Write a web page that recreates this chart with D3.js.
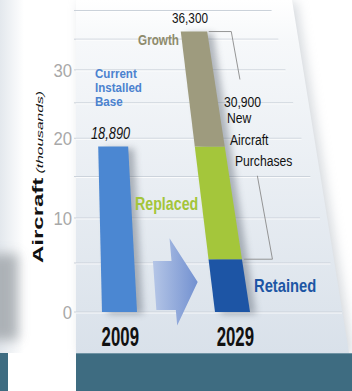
<!DOCTYPE html>
<html>
<head>
<meta charset="utf-8">
<script src="https://cdn.jsdelivr.net/npm/d3@7"></script>
<style>
  html, body { margin: 0; padding: 0; background: #fff; }
  svg { display: block; }
  text { font-family: "Liberation Sans", Arial, sans-serif; }
</style>
</head>
<body>
<svg id="chart" width="352" height="391"></svg>
<script>
// data (thousands of aircraft)
const years = ["2009", "2029"];
const installed = [18.89, 0];
const retained = [0, 5.4];
const replaced = [0, 13.49];
const growth = [0, 17.41];
const yTicks = [0, 10, 20, 30];
const gridValues = [0, 5, 10, 15, 20, 25, 30, 35, 40];

const keys = ["installed", "retained", "replaced", "growth"];
const colors = {installed: "#4b87d2", retained: "#1d55a5", replaced: "#a4c63b", growth: "#9e9b7e"};

const rows = years.map((yr, i) => ({
  year: yr, installed: installed[i], retained: retained[i], replaced: replaced[i], growth: growth[i]
}));
const stacked = d3.stack().keys(keys)(rows);
const totals = rows.map(r => d3.sum(keys, k => r[k]));
const newPurchases = replaced[1] + growth[1];

const fmt = v => d3.format(",")(Math.round(v * 1000));

const svg = d3.select("#chart");
const defs = svg.append("defs");

// the chart plane leans back, so it is drawn flat and then projected
const baseY = 312, vanishX = 76, depth = 1139;
const x = d3.scaleBand().domain(years).range([63, 289]).paddingInner(0.69).paddingOuter(0.345);
const yFlat = d3.scaleLinear().domain([0, 40]).range([baseY, baseY - 410]);
function project(xf, v) {
  const d = baseY - yFlat(v);
  const w = 1 / (1 + d / depth);
  return [vanishX + (xf - vanishX) * w, baseY - d * w];
}
function quad(x0, x1, v0, v1) {
  return [project(x0, v0), project(x1, v0), project(x1, v1), project(x0, v1)];
}
const line = d3.line();

// defs
const pg = defs.append("linearGradient").attr("id", "panelGrad")
  .attr("x1", 0).attr("y1", 0).attr("x2", 0).attr("y2", 1);
pg.selectAll("stop").data([[0, "#ffffff"], [0.12, "#f6f8fa"], [1, "#d9e1ea"]])
  .join("stop").attr("offset", d => d[0]).attr("stop-color", d => d[1]);

const lg = defs.append("linearGradient").attr("id", "leftGrad")
  .attr("x1", 0).attr("y1", 0).attr("x2", 1).attr("y2", 0);
lg.selectAll("stop").data([[0, "#e3e8ed"], [1, "#ffffff"]])
  .join("stop").attr("offset", d => d[0]).attr("stop-color", d => d[1]);

const ag = defs.append("linearGradient").attr("id", "arrowGrad")
  .attr("gradientUnits", "userSpaceOnUse").attr("x1", 150).attr("y1", 0).attr("x2", 200).attr("y2", 0);
ag.selectAll("stop").data([[0, "#b9c9e8"], [1, "#6f8ecf"]])
  .join("stop").attr("offset", d => d[0]).attr("stop-color", d => d[1]);

function blur(id, sd) {
  defs.append("filter").attr("id", id).attr("x", "-50%").attr("y", "-50%")
    .attr("width", "200%").attr("height", "200%")
    .append("feGaussianBlur").attr("stdDeviation", sd);
}
blur("soft", 3.5);
blur("softer", 6);

// backgrounds
svg.append("rect").attr("x", 0).attr("y", 0).attr("width", 24).attr("height", 353).attr("fill", "url(#leftGrad)");
svg.append("rect").attr("x", -12).attr("y", 254).attr("width", 30).attr("height", 86)
  .attr("fill", "#a3a8ad").attr("opacity", 0.85).attr("filter", "url(#softer)");

const panel = [[76, 0], [292, 0], [349, 353], [76, 353]];
svg.append("path").attr("d", line(panel.map(p => [p[0] + 4, p[1] + 2])) + "Z")
  .attr("fill", "#a9b1ba").attr("opacity", 0.5).attr("filter", "url(#softer)");
svg.append("path").attr("d", line(panel) + "Z").attr("fill", "url(#panelGrad)");

// grid
const grid = svg.append("g");
grid.selectAll("line.g").data(gridValues).join("line")
  .attr("x1", 74).attr("x2", v => project(342, v)[0])
  .attr("y1", v => project(0, v)[1]).attr("y2", v => project(0, v)[1])
  .attr("stroke", "#cbd2da").attr("stroke-width", 1);
grid.selectAll("line.w").data(gridValues).join("line")
  .attr("x1", 76).attr("x2", v => project(342, v)[0])
  .attr("y1", v => project(0, v)[1] + 1).attr("y2", v => project(0, v)[1] + 1)
  .attr("stroke", "#ffffff").attr("stroke-width", 1).attr("opacity", 0.8);

function addText(px, py, str, size, o = {}) {
  return svg.append("text")
    .attr("transform", `translate(${px},${py}) scale(${o.sx ?? 0.8},1)`)
    .attr("text-anchor", o.anchor || "start")
    .attr("font-size", size)
    .attr("font-weight", o.weight || "normal")
    .attr("font-style", o.style || "normal")
    .attr("fill", o.fill || "#111")
    .text(str);
}

yTicks.forEach(v => addText(72, project(0, v)[1] + 7, v, 19, {anchor: "end", sx: 0.88, fill: "#a8a8a8"}));

// axis title
const title = svg.append("text").attr("transform", "translate(43,263) rotate(-90) scale(1.2,0.74)").attr("fill", "#111");
title.append("tspan").attr("font-weight", "bold").attr("font-size", 20).text("Aircraft");
title.append("tspan").attr("font-style", "italic").attr("font-size", 13).text(" (thousands)");

// arrow between the bars
const gapL = x("2009") + x.bandwidth(), gapR = x("2029");
const ax = t => gapL + (gapR - gapL) * t;
const arrowPts = [
  project(ax(0.25), 5.2), project(ax(0.5), 5.2), project(ax(0.5), 7.7),
  project(ax(0.82), 3.0),
  project(ax(0.5), -1.3), project(ax(0.5), 0.2), project(ax(0.25), 0.2)
];
svg.append("path").attr("d", line(arrowPts) + "Z").attr("fill", "url(#arrowGrad)");

// bar shadows
rows.forEach((r, i) => {
  const x0 = x(r.year), x1 = x0 + x.bandwidth();
  const pts = quad(x0, x1, 0, totals[i]).map(p => [p[0] + 6, p[1] + 2]);
  svg.append("path").attr("d", line(pts) + "Z")
    .attr("fill", "#4a5260").attr("opacity", 0.4).attr("filter", "url(#soft)");
});

// bars
stacked.forEach(s => {
  s.forEach(seg => {
    if (seg[1] - seg[0] <= 0) return;
    const x0 = x(seg.data.year), x1 = x0 + x.bandwidth();
    svg.append("path").attr("d", line(quad(x0, x1, seg[0], seg[1])) + "Z").attr("fill", colors[s.key]);
  });
});

// bracket for new purchases
const bx = 282, barR = x("2029") + x.bandwidth();
const bracket = svg.append("g").attr("fill", "none").attr("stroke", "#8a8a8a").attr("stroke-width", 0.9);
bracket.append("path").attr("d", line([project(barR + 2, totals[1]), project(bx, totals[1]), project(bx, 28.5)]));
bracket.append("path").attr("d", line([project(bx, 15.1), project(bx, retained[1]), project(barR + 2, retained[1])]));

// labels
addText(190, 23, fmt(totals[1]), 14, {anchor: "middle", sx: 0.84});
addText(179, 45, "Growth", 15, {anchor: "end", weight: "bold", sx: 0.78, fill: "#8e8b6c"});
["Current", "Installed", "Base"].forEach((t, i) =>
  addText(95, 78 + i * 14, t, 13, {weight: "bold", sx: 0.89, fill: "#4b82cf"}));
addText(91, 139, fmt(totals[0]), 16, {style: "italic", sx: 0.8});
[[fmt(newPurchases), 224, 107], ["New", 227, 123], ["Aircraft", 230, 145], ["Purchases", 235, 166]]
  .forEach(d => addText(d[1], d[2], d[0], 15, {sx: 0.81}));
addText(135, 210, "Replaced", 18, {weight: "bold", sx: 0.79, fill: "#a3c53a"});
addText(254, 292, "Retained", 18, {weight: "bold", sx: 0.82, fill: "#1d56a4"});
years.forEach(yr => addText(project(x(yr) + x.bandwidth() / 2, -2)[0], 346, yr, 28,
  {anchor: "middle", weight: "bold", sx: 0.6}));

// footer band
svg.append("rect").attr("x", 76).attr("y", 353).attr("width", 276).attr("height", 38).attr("fill", "#3e6c81");
svg.append("rect").attr("x", 0).attr("y", 353).attr("width", 8).attr("height", 38).attr("fill", "#3e6c81");
svg.append("line").attr("x1", 76).attr("x2", 352).attr("y1", 353.5).attr("y2", 353.5)
  .attr("stroke", "#6f93a4").attr("stroke-width", 1);
</script>
</body>
</html>
